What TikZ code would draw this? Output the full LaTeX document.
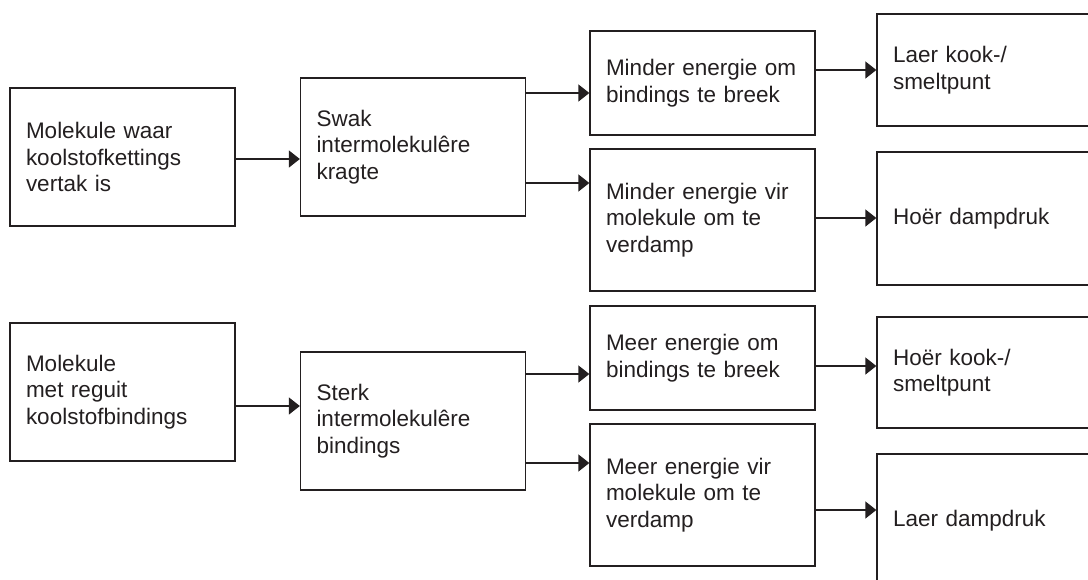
\documentclass[tikz,border=0pt]{standalone}
\usepackage{fontspec}
\setmainfont{Liberation Sans}
\usetikzlibrary{arrows.meta}
\definecolor{ink}{RGB}{35,31,32}
\begin{document}
\begin{tikzpicture}[x=1pt,y=-1pt,
  box/.style={draw=ink, line width=1.3pt, rectangle, text width=193pt, inner xsep=16pt, inner ysep=0pt,
    align=left, font=\fontsize{22.5}{26.5}\selectfont, text=ink},
  arr/.style={draw=ink, line width=1.3pt, -{Triangle[length=11pt,width=17pt]}}]
\useasboundingbox (0,0) rectangle (1088,579);
\clip (0,0) rectangle (1088,579);
% top row
\node[box, minimum height=138pt] (A1) at (122.5,157) {Molekule waar\\koolstofkettings\\vertak is};
\node[box, minimum height=138pt] (B1) at (413,147) {Swak\\intermolekulêre\\kragte};
\node[box, minimum height=104pt] (C1) at (702.5,83) {Minder energie om\\bindings te breek};
\node[box, minimum height=142pt] (C2) at (702.5,220) {Minder energie vir\\molekule om te\\verdamp};
\node[box, minimum height=112pt] (D1) at (989.5,70) {Laer kook-/\\smeltpunt};
\node[box, minimum height=133pt] (D2) at (989.5,218.5) {Hoër dampdruk};
% bottom row
\node[box, minimum height=138pt] (A2) at (122.5,392) {Molekule\\met reguit\\koolstofbindings};
\node[box, minimum height=138pt] (B2) at (413,421) {Sterk\\intermolekulêre\\bindings};
\node[box, minimum height=104pt] (C3) at (702.5,358) {Meer energie om\\bindings te breek};
\node[box, minimum height=142pt] (C4) at (702.5,495) {Meer energie vir\\molekule om te\\verdamp};
\node[box, minimum height=111pt] (D3) at (989.5,372.5) {Hoër kook-/\\smeltpunt};
\node[box, minimum height=134pt] (D4) at (989.5,521) {Laer dampdruk};
% connectors
\draw[arr] (A1.east |- 0,159) -- (B1.west |- 0,159);
\draw[arr] (B1.east |- 0,93) -- (C1.west |- 0,93);
\draw[arr] (B1.east |- 0,183) -- (C2.west |- 0,183);
\draw[arr] (C1.east |- 0,70) -- (D1.west |- 0,70);
\draw[arr] (C2.east |- 0,218) -- (D2.west |- 0,218);
\draw[arr] (A2.east |- 0,406) -- (B2.west |- 0,406);
\draw[arr] (B2.east |- 0,374) -- (C3.west |- 0,374);
\draw[arr] (B2.east |- 0,463) -- (C4.west |- 0,463);
\draw[arr] (C3.east |- 0,366) -- (D3.west |- 0,366);
\draw[arr] (C4.east |- 0,510) -- (D4.west |- 0,510);
\end{tikzpicture}
\end{document}
